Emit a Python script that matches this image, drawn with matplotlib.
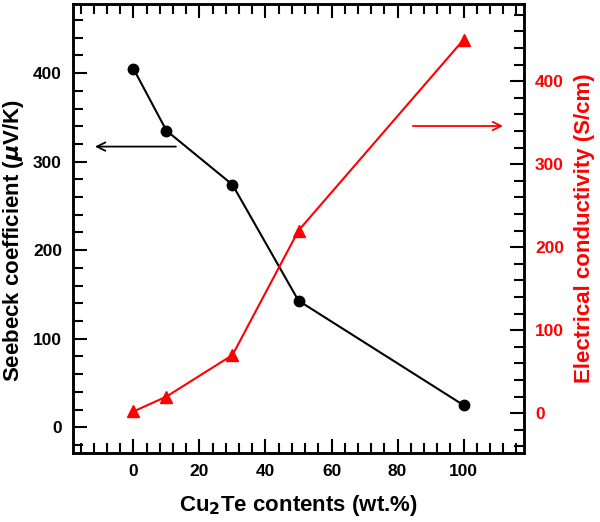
import matplotlib.pyplot as plt
from matplotlib.ticker import MultipleLocator

plt.rcParams['font.family'] = ['Liberation Sans', 'DejaVu Sans']
plt.rcParams['font.weight'] = 'bold'

# Data
cu2te = [0, 10, 30, 50, 100]
seebeck = [405, 335, 274, 143, 25]          # uV/K
conductivity = [2, 20, 70, 220, 450]        # S/cm

fig = plt.figure(figsize=(6, 5.22), dpi=100)
ax = fig.add_axes([0.1217, 0.1322, 0.7516, 0.8601])
ax2 = ax.twinx()

ax.plot(cu2te, seebeck, '-o', color='black', lw=1.5, ms=7.5, zorder=3)
ax2.plot(cu2te, conductivity, '-^', color='red', lw=1.5, ms=9, zorder=3)

ax.set_xlim(-18.3, 118.3)
ax.set_ylim(-29, 478)
ax2.set_ylim(-48, 493)

ax.xaxis.set_major_locator(MultipleLocator(20))
ax.xaxis.set_minor_locator(MultipleLocator(4))
ax.yaxis.set_major_locator(MultipleLocator(100))
ax.yaxis.set_minor_locator(MultipleLocator(20))
ax2.yaxis.set_major_locator(MultipleLocator(100))
ax2.yaxis.set_minor_locator(MultipleLocator(20))

ax.tick_params(which='both', direction='in', top=True, right=False, width=1.5,
               labelsize=12.5)
ax.tick_params(which='major', length=10, pad=8)
ax.tick_params(which='minor', length=7)
ax2.tick_params(which='both', direction='in', width=1.5, labelsize=12.5,
                labelcolor='red', color='black')
ax2.tick_params(which='major', length=10, pad=8)
ax2.tick_params(which='minor', length=7)

for a in (ax, ax2):
    for s in a.spines.values():
        s.set_linewidth(1.8)

ax.set_xlabel('Cu$_\\mathbf{2}$Te contents (wt.%)', fontsize=16, fontweight='bold')
ax.set_ylabel('Seebeck coefficient ($\\mu$V/K)', fontsize=16, fontweight='bold')
ax2.set_ylabel('Electrical conductivity (S/cm)', fontsize=16, fontweight='bold',
               color='red')
ax.xaxis.set_label_coords(0.5, -0.118)
ax.xaxis.label.set_va('center')
ax.yaxis.set_label_coords(-0.131, 0.474)
ax.yaxis.label.set_va('center')
ax2.yaxis.set_label_coords(1.135, 0.5)
ax2.yaxis.label.set_va('center')

# direction arrows
ax.annotate('', xy=(-12.5, 317), xytext=(13.7, 317),
            arrowprops=dict(arrowstyle='->', color='black', lw=1.3, mutation_scale=15))
ax2.annotate('', xy=(112.8, 346), xytext=(83.8, 346),
             arrowprops=dict(arrowstyle='->', color='red', lw=1.3, mutation_scale=15))

fig.savefig('out.png', dpi=100)
